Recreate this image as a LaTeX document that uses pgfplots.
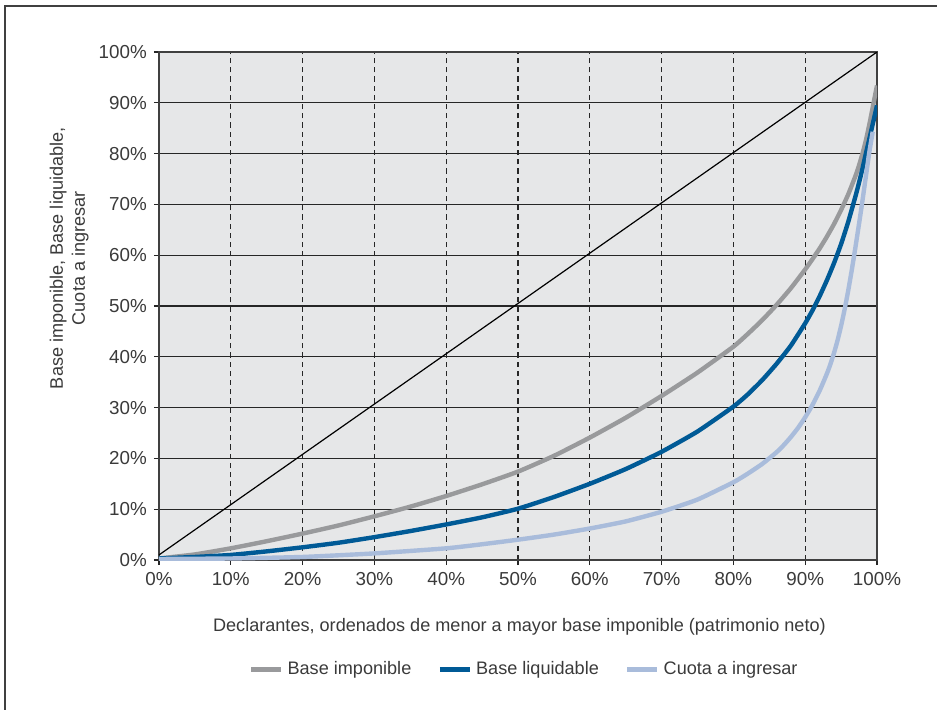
\documentclass[border=0pt]{standalone}
\usepackage{pgfplots}
\pgfplotsset{compat=1.18}
\usepackage{fontspec}
\setmainfont{Liberation Sans}
\definecolor{bggray}{HTML}{E6E7E8}
\definecolor{cgray}{HTML}{999A9C}
\definecolor{cblue}{HTML}{005A96}
\definecolor{clight}{HTML}{A9BCDB}
\definecolor{txt}{HTML}{3A3A3A}
\begin{document}
\begin{tikzpicture}
\begin{axis}[
  name=ax,
  scale only axis,
  width=359pt, height=254pt,
  xmin=0, xmax=100, ymin=0, ymax=100,
  xtick={0,10,...,100}, ytick={0,10,...,100},
  xticklabel={\pgfmathprintnumber{\tick}\%},
  yticklabel={\pgfmathprintnumber{\tick}\%},
  /pgf/number format/assume math mode=true,
  tick label style={font=\fontsize{9.4}{11}\selectfont, text=txt},
  tick pos=left,
  tick align=outside,
  major tick length=2.6pt,
  tick style={black!85, line width=0.6pt},
  xmajorgrids, ymajorgrids,
  x grid style={black!85, line width=0.65pt, dash pattern=on 2.6pt off 2pt},
  y grid style={black!85, line width=0.6pt},
  axis line style={black!75, line width=0.7pt},
  axis background/.style={fill=bggray},
  xlabel={Declarantes, ordenados de menor a mayor base imponible (patrimonio neto)},
  xlabel style={at={(0.502,-0.131)}, anchor=center, font=\fontsize{9.05}{11}\selectfont, text=txt},
  ylabel={Base imponible, Base liquidable,\\Cuota a ingresar},
  ylabel style={at={(-0.125,0.594)}, anchor=center, align=center, font=\fontsize{9.05}{11}\selectfont, text=txt},
  legend columns=3,
  legend style={at={(0.51,-0.216)}, anchor=center, draw=none, fill=none,
    font=\fontsize{9.05}{11}\selectfont, text=txt,
    /tikz/every even column/.append style={column sep=11pt}},
  legend image code/.code={\draw[#1, line width=2.4pt] (0pt,0pt) -- (15pt,0pt);},
]
\addplot[cgray, line width=2.2pt, smooth, tension=0.3] coordinates {
 (0,0.3) (5,1.1) (10,2.3) (15,3.7) (20,5.2) (25,6.8) (30,8.6) (35,10.5) (40,12.6)
 (45,14.9) (50,17.4) (55,20.5) (60,24.1) (65,28) (70,32.3) (75,36.9) (80,42.0)
 (82,44.5) (84,47.2) (86,50.2) (88,53.5) (90,57.2) (91,59.2) (92,61.3) (93,63.6)
 (94,66.1) (95,68.9) (96,72.0) (97,75.6) (97.5,77.7) (98,80.1) (98.5,82.9)
 (99,86.2) (99.5,89.8) (100,93.4)};
\addlegendentry{Base imponible}
\addplot[cblue, line width=2.2pt, smooth, tension=0.3] coordinates {
 (0,0.3) (5,0.6) (10,1.0) (15,1.7) (20,2.5) (25,3.4) (30,4.5) (35,5.7) (40,7.0)
 (45,8.4) (50,10.1) (55,12.4) (60,15.0) (65,17.9) (70,21.3) (75,25.3) (80,30.2)
 (82,32.6) (84,35.4) (86,38.6) (88,42.2) (90,46.6) (91,49.1) (92,51.9) (93,55.0)
 (94,58.4) (95,62.2) (96,66.6) (97,71.6) (97.5,74.3) (98,77.2) (98.5,80.3)
 (99,83.3) (99.5,86.4) (100,89.5)};
\addlegendentry{Base liquidable}
\addplot[clight, line width=2.2pt, smooth, tension=0.3] coordinates {
 (0,0.2) (10,0.3) (20,0.6) (30,1.3) (40,2.3) (45,3.1) (50,4.0) (55,5.0) (60,6.2)
 (65,7.6) (70,9.5) (75,11.9) (80,15.3) (82,17.0) (84,18.9) (86,21.2) (87,22.6)
 (88,24.2) (89,26.0) (90,28.1) (91,30.5) (92,33.3) (93,36.6) (93.5,38.5) (94,40.7)
 (94.5,43.2) (95,46.1) (95.5,49.4) (96,53.1) (96.5,57.2) (97,61.6) (97.5,66.2)
 (97.9,70) (98.4,75) (98.9,80) (99.4,84.3)};
\addlegendentry{Cuota a ingresar}
\addplot[black, line width=0.6pt, forget plot] coordinates {(0,1) (100,100)};
\end{axis}
\draw[black!75, line width=0.8pt] ([xshift=-77pt,yshift=-80pt]ax.south west) -- ([xshift=-77pt,yshift=277pt]ax.south west) -- ([xshift=395pt,yshift=277pt]ax.south west);
\pgfresetboundingbox
\path ([xshift=-79.5pt,yshift=-74.5pt]ax.south west) rectangle ([xshift=389pt,yshift=280pt]ax.south west);
\end{tikzpicture}
\end{document}
